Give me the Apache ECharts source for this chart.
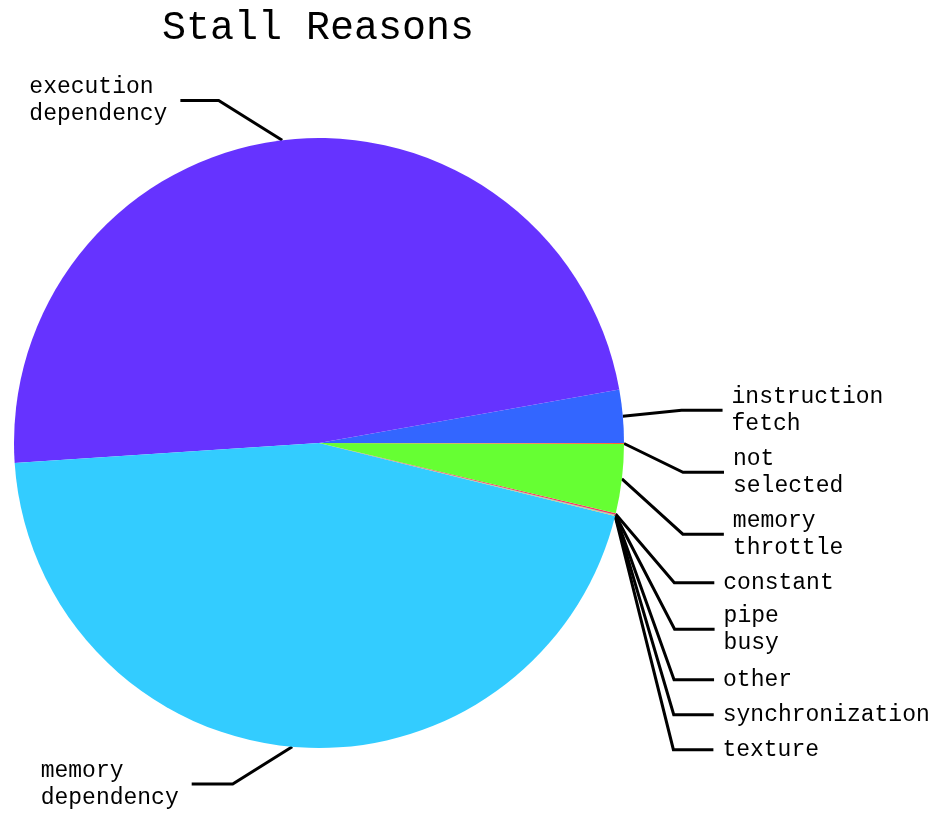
<!DOCTYPE html>
<html>
<head>
<meta charset="utf-8">
<title>Stall Reasons</title>
<script src="https://cdn.jsdelivr.net/npm/echarts@6/dist/echarts.min.js"></script>
<style>
  html, body { margin: 0; padding: 0; background: #fff; }
  #chart { width: 940px; height: 815px; }
</style>
</head>
<body>
<div id="chart"></div>
<script>
// slices, counter-clockwise from 3 o'clock
var reasons = ['instruction fetch', 'execution dependency', 'memory dependency', 'texture',
  'synchronization', 'other', 'pipe busy', 'constant', 'memory throttle', 'not selected'];
var shares = [2.8, 48.25, 45.1, 0.01, 0.02, 0.02, 0.02, 0.08, 3.65, 0.05];
var colors = ['#3366FF', '#6633FF', '#33CCFF', '#FF9933', '#FFCC33', '#CC33FF', '#33FF99', '#FF3366', '#66FF33', '#FF6633'];

var font = '"Liberation Mono", "DejaVu Sans Mono", monospace';
var leftSide = { 'execution dependency': 1, 'memory dependency': 1 };
var upperRight = { 'instruction fetch': 1, 'not selected': 1, 'memory throttle': 1 };

// labels laid out in the previous pass (used to put "constant" above "pipe busy")
var placed = {};
var iPipe = reasons.indexOf('pipe busy');
var iConst = reasons.indexOf('constant');

function tweakLabel(p) {
  var r = p.labelRect;
  var out = {};
  var pts = p.labelLinePoints ? p.labelLinePoints.map(function (q) { return q.slice(); }) : null;
  var prevP = placed[iPipe], prevC = placed[iConst];
  placed[p.dataIndex] = { y: r.y, h: r.height };

  if (p.align === 'right') {
    // left-hand labels: keep the box, left-align the lines
    out.align = 'left';
    out.x = r.x;
    out.labelLinePoints = pts;
  }
  if ((p.dataIndex === iPipe || p.dataIndex === iConst) && prevP && prevC && prevP.y < prevC.y) {
    var top = prevP.y;
    var newTop = p.dataIndex === iConst ? top : top + prevC.h;
    out.y = newTop + r.height / 2;
    if (pts) {
      pts[1][1] = out.y;
      pts[2][1] = out.y;
      out.labelLinePoints = pts;
    }
  }
  return out;
}

var chart = echarts.init(document.getElementById('chart'));

var option = {
  animation: false,
  title: {
    text: 'Stall Reasons',
    left: 313,
    textAlign: 'center',
    top: 3,
    textStyle: { fontFamily: font, fontSize: 40, fontWeight: 'normal', color: '#000' }
  },
  series: [{
    type: 'pie',
    center: [319, 443],
    radius: 305,
    startAngle: 0,
    clockwise: false,
    avoidLabelOverlap: true,
    itemStyle: { borderWidth: 0 },
    label: {
      position: 'outside',
      fontFamily: font,
      fontSize: 23,
      lineHeight: 27,
      color: '#000',
      overflow: 'none',
      padding: [3, 0, 3, 0],
      distanceToLabelLine: 9,
      formatter: function (p) { return p.name.split(' ').join('\n'); }
    },
    labelLine: {
      show: true,
      length: 60,
      length2: 40,
      lineStyle: { color: '#000', width: 3 }
    },
    labelLayout: tweakLabel,
    data: reasons.map(function (n, i) {
      var item = { name: n, value: shares[i], itemStyle: { color: colors[i] } };
      if (leftSide[n]) {
        item.label = { distanceToLabelLine: 13 };
        item.labelLine = { length: 40, length2: 97, minTurnAngle: 148 };
      }
      if (upperRight[n]) {
        item.labelLine = { length: 68, length2: 41 };
      }
      return item;
    })
  }]
};

chart.setOption(option);
chart.setOption(option, true);
</script>
</body>
</html>
